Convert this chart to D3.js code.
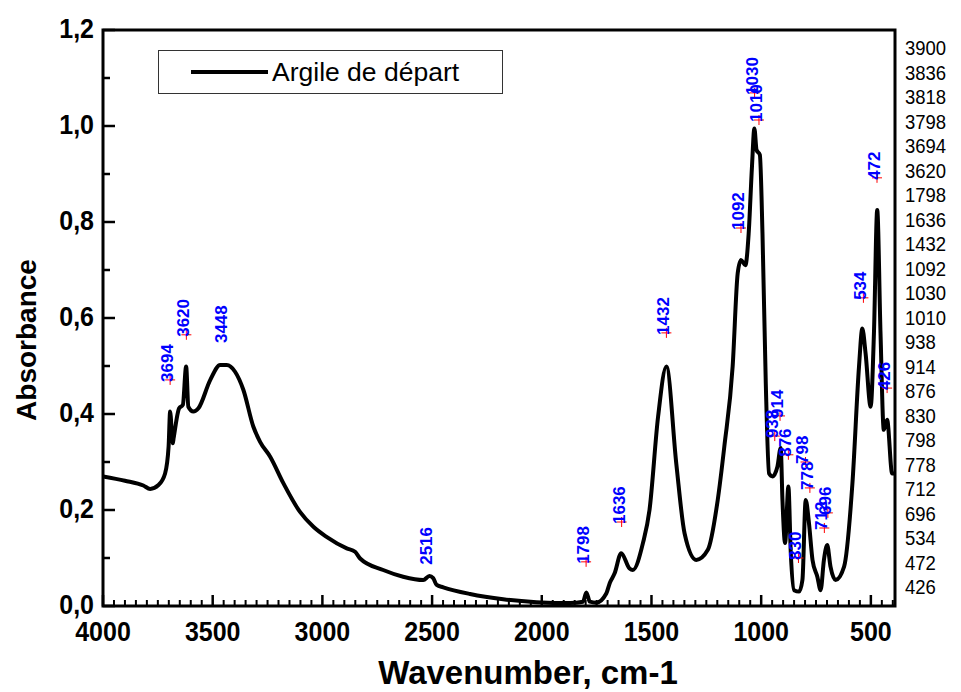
<!DOCTYPE html>
<html>
<head>
<meta charset="utf-8">
<script src="https://cdn.jsdelivr.net/npm/d3@7"></script>
<style>
  body { margin: 0; background: #fff; }
  text { font-family: Arial, "Liberation Sans", sans-serif; }
</style>
</head>
<body>
<svg id="chart" width="961" height="692"></svg>
<script>
// spectrum (wavenumber cm-1 / absorbance)
var wavenumbers = [4000, 3900, 3816, 3785, 3747, 3717, 3701, 3694, 3682, 3678, 3653, 3636, 3621, 3611, 3588, 3565,
  3511, 3466, 3436, 3398, 3360, 3315, 3284, 3238, 3178, 3102, 3041, 2981, 2889, 2851, 2828, 2723, 2632,
  2540, 2512, 2495, 2479, 2449, 2327, 2176, 2024, 1872, 1812, 1797, 1781, 1751, 1706, 1690, 1668, 1638,
  1600, 1585, 1539, 1509, 1470, 1432, 1387, 1349, 1296, 1243, 1198, 1168, 1130, 1107, 1092, 1072, 1057,
  1042, 1031, 1021, 1006, 994, 979, 964, 948, 926, 911, 903, 891, 876, 865, 850, 827, 812, 797, 782,
  766, 744, 729, 714, 699, 684, 661, 622, 584, 554, 539, 524, 501, 486, 471, 456, 441, 426, 403, 393];
var absorbance = [0.270, 0.261, 0.251, 0.244, 0.252, 0.276, 0.332, 0.405, 0.339, 0.350, 0.412, 0.419, 0.499, 0.415, 0.405, 0.412,
  0.471, 0.502, 0.502, 0.488, 0.450, 0.374, 0.342, 0.311, 0.256, 0.196, 0.165, 0.144, 0.120, 0.113, 0.099, 0.075, 0.061,
  0.054, 0.0625, 0.058, 0.044, 0.039, 0.025, 0.014, 0.008, 0.006, 0.009, 0.028, 0.009, 0.007, 0.026, 0.048, 0.068, 0.110,
  0.078, 0.075, 0.131, 0.200, 0.394, 0.499, 0.297, 0.151, 0.096, 0.117, 0.221, 0.332, 0.499, 0.693, 0.721, 0.710, 0.776,
  0.915, 0.995, 0.950, 0.940, 0.776, 0.464, 0.276, 0.270, 0.290, 0.329, 0.221, 0.131, 0.249, 0.110, 0.033, 0.030, 0.054, 0.221, 0.172,
  0.096, 0.061, 0.033, 0.096, 0.127, 0.082, 0.054, 0.082, 0.256, 0.499, 0.578, 0.526, 0.415, 0.568, 0.825, 0.568, 0.367, 0.388, 0.276, 0.276];

// peak picking labels
var peakWn  = [3694, 3620, 3448, 2516, 1798, 1636, 1432, 1092, 1030, 1010, 938, 914, 876, 830, 798, 778, 712, 696, 534, 472, 426];
var peakAbs = [0.471, 0.565, 0.552, 0.090, 0.092, 0.175, 0.569, 0.7875, 1.069, 1.0125, 0.354, 0.396, 0.315, 0.100, 0.300, 0.246, 0.1625, 0.194, 0.642, 0.892, 0.454];
var peakCross = [1, 1, 0, 0, 1, 1, 1, 1, 1, 1, 1, 1, 1, 1, 1, 1, 1, 1, 1, 1, 1];

// peak table printed at the right
var peakList = [3900, 3836, 3818, 3798, 3694, 3620, 1798, 1636, 1432, 1092, 1030, 1010, 938, 914, 876, 830, 798, 778, 712, 696, 534, 472, 426];

var yTicks = [0, 0.2, 0.4, 0.6, 0.8, 1.0, 1.2];
var xTicks = [4000, 3500, 3000, 2500, 2000, 1500, 1000, 500];

var pLeft = 103, pRight = 895, pTop = 30, pBottom = 606;

var svg = d3.select("#chart");

var x = d3.scaleLinear().domain([4000, 390]).range([pLeft, pRight]);
var y = d3.scaleLinear().domain([0, 1.2]).range([pBottom, pTop]);

var fmt = function(d) { return d3.format(".1f")(d).replace(".", ","); };

// minor ticks
var xMinor = d3.range(4000, 389, -50).filter(function(d) { return d % 500 != 0; });
var yMinor = [0.1, 0.3, 0.5, 0.7, 0.9, 1.1];

svg.selectAll(".xminor").data(xMinor).enter().append("line")
  .attr("x1", function(d) { return x(d); }).attr("x2", function(d) { return x(d); })
  .attr("y1", pBottom).attr("y2", pBottom - 6)
  .attr("stroke", "#000").attr("stroke-width", 2);
svg.selectAll(".xmajor").data(xTicks).enter().append("line")
  .attr("x1", function(d) { return x(d); }).attr("x2", function(d) { return x(d); })
  .attr("y1", pBottom).attr("y2", pBottom - 11)
  .attr("stroke", "#000").attr("stroke-width", 2.5);
svg.selectAll(".yminor").data(yMinor).enter().append("line")
  .attr("x1", pLeft).attr("x2", pLeft + 7)
  .attr("y1", function(d) { return y(d); }).attr("y2", function(d) { return y(d); })
  .attr("stroke", "#000").attr("stroke-width", 2.5);
svg.selectAll(".ymajor").data(yTicks).enter().append("line")
  .attr("x1", pLeft).attr("x2", pLeft + 12)
  .attr("y1", function(d) { return y(d); }).attr("y2", function(d) { return y(d); })
  .attr("stroke", "#000").attr("stroke-width", 2.5);

// tick labels (the picture looks a bit stretched vertically)
svg.selectAll(".xlab").data(xTicks).enter().append("text")
  .attr("transform", function(d) { return "translate(" + x(d) + ",641) scale(1,1.1)"; })
  .attr("text-anchor", "middle")
  .style("font-size", "25px").style("font-weight", "bold")
  .text(function(d) { return d; });
svg.selectAll(".ylab").data(yTicks).enter().append("text")
  .attr("transform", function(d) { return "translate(94," + (y(d) + 8) + ") scale(1,1.1)"; })
  .attr("text-anchor", "end")
  .style("font-size", "25px").style("font-weight", "bold")
  .text(fmt);

// axis titles
svg.append("text")
  .attr("transform", "translate(36,340) rotate(-90)")
  .attr("text-anchor", "middle")
  .style("font-size", "28px").style("font-weight", "bold")
  .text("Absorbance");
svg.append("text")
  .attr("transform", "translate(528,684)")
  .attr("text-anchor", "middle")
  .style("font-size", "33px").style("font-weight", "bold")
  .text("Wavenumber, cm-1");

// spectrum
svg.append("clipPath").attr("id", "clip").append("rect")
  .attr("x", pLeft).attr("y", pTop).attr("width", pRight - pLeft).attr("height", pBottom - pTop);

var pts = wavenumbers.map(function(w, i) { return [w, absorbance[i]]; });
var line = d3.line()
  .x(function(d) { return x(d[0]); })
  .y(function(d) { return y(d[1]); })
  .curve(d3.curveMonotoneX);

svg.append("path")
  .datum(pts)
  .attr("clip-path", "url(#clip)")
  .attr("d", line)
  .attr("fill", "none")
  .attr("stroke", "#000")
  .attr("stroke-width", 4)
  .attr("stroke-linejoin", "round");

// peak markers + labels
var peaks = peakWn.map(function(w, i) { return {w: w, a: peakAbs[i], c: peakCross[i]}; });
var pk = svg.selectAll(".peak").data(peaks).enter().append("g");
pk.filter(function(d) { return d.c; }).append("path")
  .attr("d", function(d) {
    var px = x(d.w), py = y(d.a);
    return "M" + (px - 5) + "," + py + "H" + (px + 5) + "M" + px + "," + (py - 5) + "V" + (py + 5);
  })
  .attr("stroke", "#ff0000").attr("stroke-width", 1);
pk.append("text")
  .attr("transform", function(d) { return "translate(" + (x(d.w) + 3) + "," + (y(d.a) + 2) + ") rotate(-90)"; })
  .style("font-size", "17px").style("font-weight", "bold")
  .attr("fill", "#0000ff")
  .text(function(d) { return d.w; });

// frame
svg.append("rect")
  .attr("x", pLeft).attr("y", pTop).attr("width", pRight - pLeft).attr("height", pBottom - pTop)
  .attr("fill", "none").attr("stroke", "#000").attr("stroke-width", 3);

// legend
svg.append("rect")
  .attr("x", 158.5).attr("y", 50.5).attr("width", 344).attr("height", 43)
  .attr("fill", "#fff").attr("stroke", "#333").attr("stroke-width", 1);
svg.append("line")
  .attr("x1", 191).attr("x2", 268).attr("y1", 72).attr("y2", 72)
  .attr("stroke", "#000").attr("stroke-width", 4);
svg.append("text")
  .attr("x", 272).attr("y", 81)
  .style("font-size", "26.5px")
  .text("Argile de départ");

// peak table
svg.selectAll(".plist").data(peakList).enter().append("text")
  .attr("transform", function(d, i) { return "translate(905," + (55 + i * 24.5) + ") scale(1,1.1)"; })
  .style("font-size", "18.5px")
  .text(function(d) { return d; });
</script>
</body>
</html>
